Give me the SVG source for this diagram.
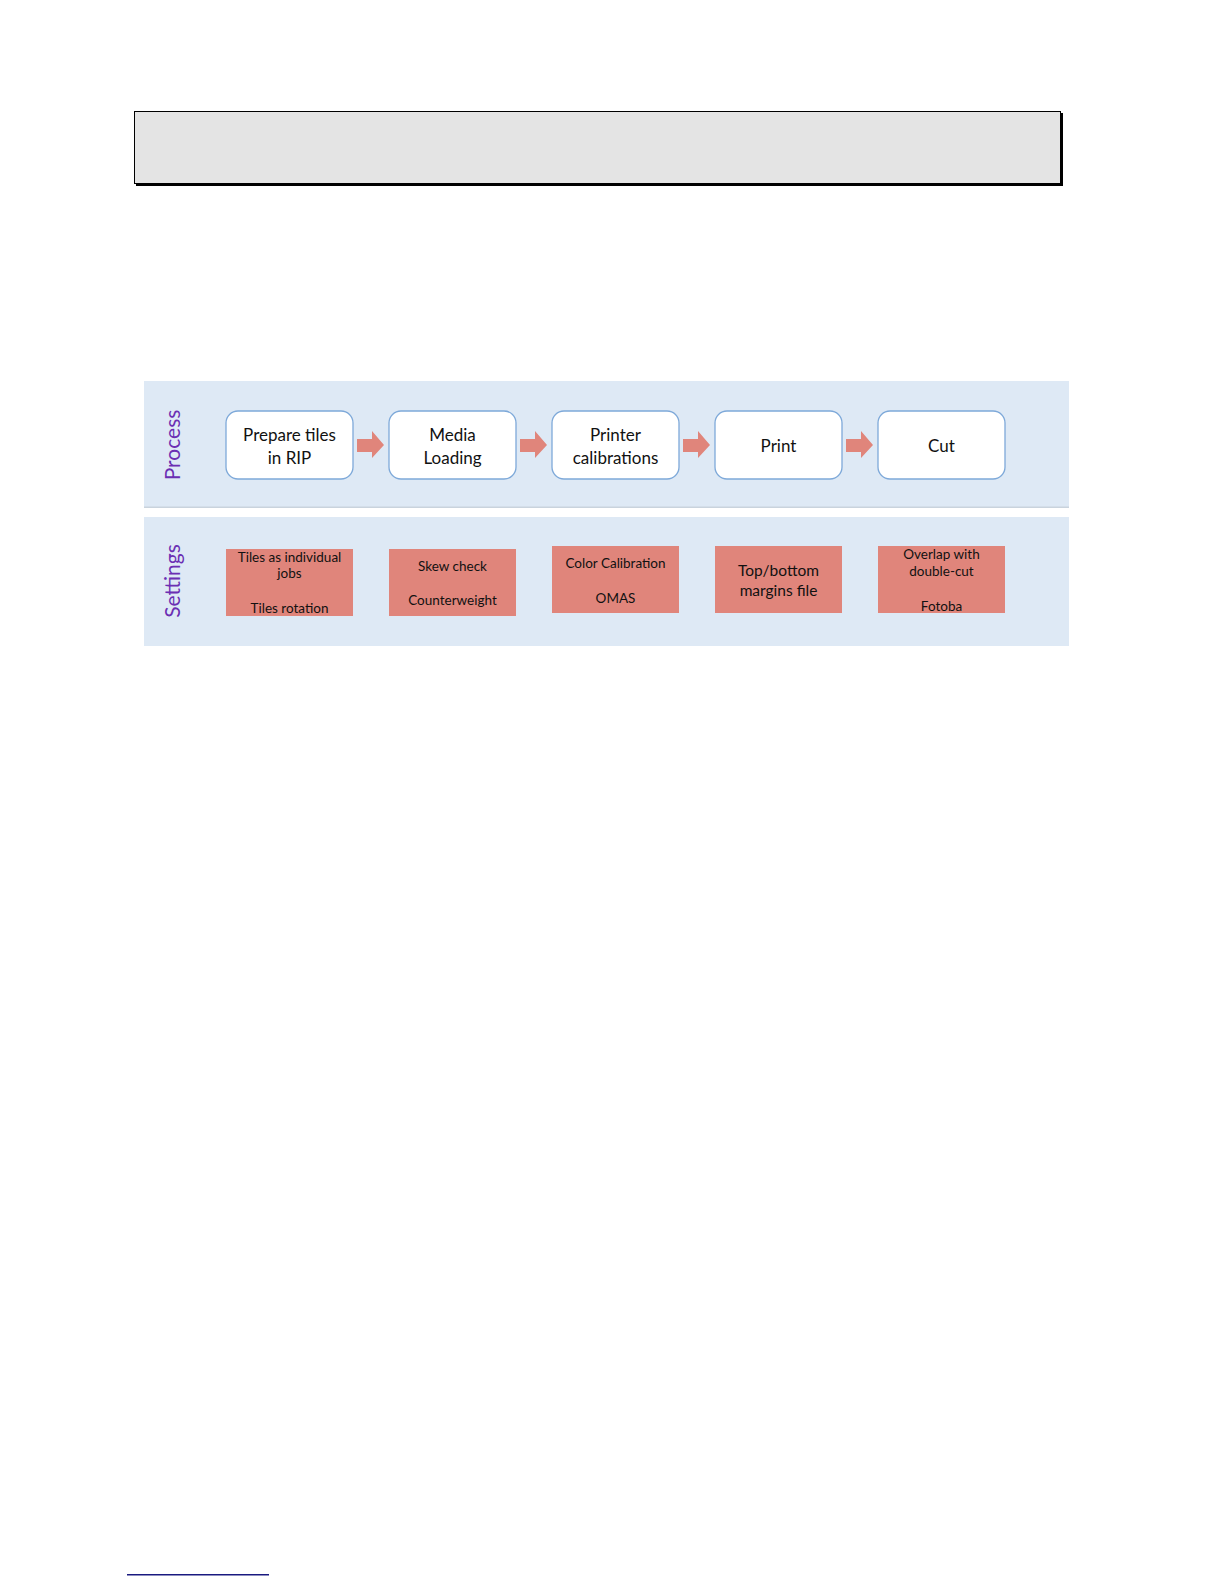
<svg xmlns="http://www.w3.org/2000/svg" width="1224" height="1584" viewBox="0 0 1224 1584">
<defs>
<style>
.panel{fill:#dee9f5}
.step{fill:#ffffff;stroke:#7ea9d9;stroke-width:1.3}
.set{fill:#e0857b}
.arrow{fill:#e0857b}
.pt{font-family:"Lato","Liberation Sans",sans-serif;font-size:17px;fill:#111111;text-anchor:middle}
.st{font-family:"Lato","Liberation Sans",sans-serif;font-size:13.5px;fill:#111111;text-anchor:middle}
.st2{font-family:"Lato","Liberation Sans",sans-serif;font-size:15.5px;fill:#111111;text-anchor:middle}
.lab{font-family:"Lato","Liberation Sans",sans-serif;font-size:21px;fill:#6b2fb3;text-anchor:middle}
</style>
</defs>
<rect x="0" y="0" width="1224" height="1584" fill="#ffffff"/>
<g id="header-box">
<rect x="136" y="113" width="927" height="73" fill="#000000"/>
<rect x="134.5" y="111.5" width="926" height="72" fill="#e4e4e4" stroke="#000000" stroke-width="1"/>
</g>
<g id="process-panel">
<rect class="panel" x="144" y="381" width="925" height="126"/>
<rect x="144" y="506.5" width="925" height="1.5" fill="#c9d3dd"/>
<text class="lab" transform="translate(180,445) rotate(-90)">Process</text>
</g>
<g id="settings-panel">
<rect class="panel" x="144" y="517" width="925" height="129"/>
<text class="lab" transform="translate(180,581) rotate(-90)">Settings</text>
</g>
<g id="step-prepare">
<rect class="step" x="226" y="411" width="127" height="68" rx="12"/>
<text class="pt" x="289.5" y="441">Prepare tiles</text>
<text class="pt" x="289.5" y="464">in RIP</text>
</g>
<g id="step-media">
<rect class="step" x="389" y="411" width="127" height="68" rx="12"/>
<text class="pt" x="452.5" y="441">Media</text>
<text class="pt" x="452.5" y="464">Loading</text>
</g>
<g id="step-calib">
<rect class="step" x="552" y="411" width="127" height="68" rx="12"/>
<text class="pt" x="615.5" y="441">Printer</text>
<text class="pt" x="615.5" y="464">calibrations</text>
</g>
<g id="step-print">
<rect class="step" x="715" y="411" width="127" height="68" rx="12"/>
<text class="pt" x="778.5" y="452">Print</text>
</g>
<g id="step-cut">
<rect class="step" x="878" y="411" width="127" height="68" rx="12"/>
<text class="pt" x="941.5" y="452">Cut</text>
</g>
<g id="connectors">
<polygon class="arrow" points="357,439 372,439 372,431 384,445 372,458 372,452 357,452"/>
<polygon class="arrow" points="520,439 535,439 535,431 547,445 535,458 535,452 520,452"/>
<polygon class="arrow" points="683,439 698,439 698,431 710,445 698,458 698,452 683,452"/>
<polygon class="arrow" points="846,439 861,439 861,431 873,445 861,458 861,452 846,452"/>
</g>
<g id="set-prepare">
<rect class="set" x="226" y="549" width="127" height="67"/>
<text class="st" x="289.5" y="562">Tiles as individual</text>
<text class="st" x="289.5" y="578">jobs</text>
<text class="st" x="289.5" y="613">Tiles rotation</text>
</g>
<g id="set-media">
<rect class="set" x="389" y="549" width="127" height="67"/>
<text class="st" x="452.5" y="571">Skew check</text>
<text class="st" x="452.5" y="605">Counterweight</text>
</g>
<g id="set-calib">
<rect class="set" x="552" y="546" width="127" height="67"/>
<text class="st" x="615.5" y="568">Color Calibration</text>
<text class="st" x="615.5" y="603">OMAS</text>
</g>
<g id="set-print">
<rect class="set" x="715" y="546" width="127" height="67"/>
<text class="st2" x="778.5" y="576">Top/bottom</text>
<text class="st2" x="778.5" y="596">margins file</text>
</g>
<g id="set-cut">
<rect class="set" x="878" y="546" width="127" height="67"/>
<text class="st" x="941.5" y="559">Overlap with</text>
<text class="st" x="941.5" y="576">double-cut</text>
<text class="st" x="941.5" y="611">Fotoba</text>
</g>
<g id="footnote-rule">
<rect x="127" y="1574" width="142" height="1.5" fill="#1a1a80"/>
</g>
</svg>
